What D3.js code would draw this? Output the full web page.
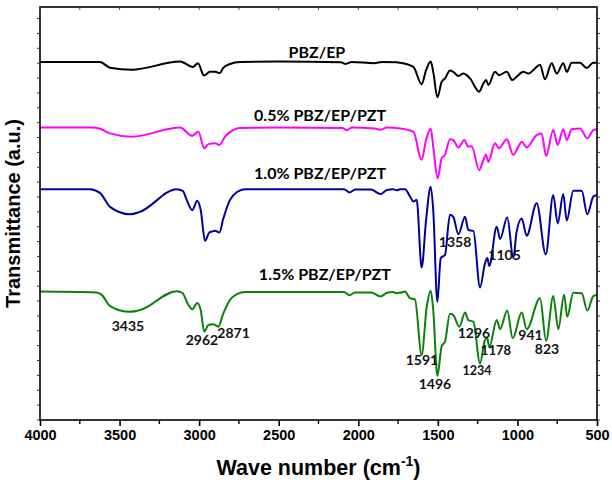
<!DOCTYPE html>
<html>
<head>
<meta charset="utf-8">
<script src="https://cdn.jsdelivr.net/npm/d3@7"></script>
<style>
  body { margin: 0; background: #fff; }
</style>
</head>
<body>
<div id="chart"></div>
<script>
// x axis ticks (wave number, reversed)
const xMajor = [4000, 3500, 3000, 2500, 2000, 1500, 1000, 500];
const xMinor = [3750, 3250, 2750, 2250, 1750, 1250, 750];

const seriesNames = ["PBZ/EP", "0.5% PBZ/EP/PZT", "1.0% PBZ/EP/PZT", "1.5% PBZ/EP/PZT"];
const seriesColors = ["#000000", "#ff00ff", "#0000a0", "#0a820a"];

// [wave number, transmittance a.u.]
const pbzEp = [
  [4000,86.7],[3623,86.7],[3560,85.3],[3424,84.8],[3120,86.8],[3040,85.5],[3007,86.4],[2970,83.4],
  [2932,84.3],[2900,84.3],[2869,84.0],[2850,85.2],[2806,86.2],[2743,86.7],[2500,86.8],[2110,86.6],
  [2080,86.2],[2040,86.7],[1900,86.4],[1850,86.7],[1760,86.6],[1738,86.5],[1654,85.5],[1602,81.3],
  [1574,84.7],[1545,86.8],[1529,84.3],[1503,78.1],[1476,81.9],[1455,82.7],[1424,84.6],[1403,84.3],
  [1371,83.3],[1340,83.9],[1319,83.5],[1298,82.7],[1240,79.5],[1214,81.5],[1197,82.3],[1183,81.1],
  [1141,84.3],[1116,83.5],[1067,84.3],[1032,82.3],[1005,83.1],[963,84.3],[932,83.9],[879,85.5],
  [858,86.0],[827,82.5],[785,86.4],[753,83.9],[712,86.4],[690,84.3],[659,86.5],[607,86.5],
  [565,85.2],[523,86.5],[500,86.5]
];
const pzt05 = [
  [4000,70.8],[3675,70.8],[3623,70.5],[3560,69.4],[3424,68.6],[3120,70.8],[3043,68.8],[3005,69.8],
  [2968,65.8],[2942,66.8],[2900,67.0],[2873,66.6],[2837,68.6],[2806,69.7],[2743,70.7],[2500,70.8],
  [2100,70.7],[2070,70.2],[2040,70.8],[1900,70.6],[1860,70.3],[1820,70.8],[1738,70.6],[1654,69.8],
  [1602,63.0],[1574,67.8],[1545,70.6],[1529,66.2],[1501,58.5],[1476,63.4],[1455,64.2],[1424,68.0],
  [1403,67.8],[1371,66.0],[1334,67.8],[1309,66.2],[1287,66.2],[1240,60.5],[1214,63.0],[1197,64.2],
  [1183,62.5],[1141,67.0],[1116,65.8],[1067,68.0],[1026,64.2],[994,66.2],[973,67.4],[942,66.0],
  [879,69.0],[848,69.4],[820,63.9],[775,70.2],[747,66.6],[712,70.4],[690,67.8],[659,70.4],
  [607,70.6],[561,68.2],[523,70.2],[500,70.4]
];
const pzt10 = [
  [4000,55.9],[3686,55.9],[3623,55.0],[3560,51.6],[3434,49.8],[3372,50.4],[3141,55.9],[3103,55.5],
  [3078,53.3],[3043,50.8],[3012,53.1],[2990,50.8],[2963,43.4],[2936,45.4],[2921,45.6],[2900,45.8],
  [2873,45.4],[2848,48.8],[2806,53.3],[2762,55.2],[2712,55.9],[2300,55.9],[2090,55.9],[2055,55.1],
  [2020,55.8],[1920,55.8],[1860,54.7],[1820,55.7],[1780,55.9],[1760,55.6],[1738,55.9],[1706,55.9],
  [1675,54.1],[1654,52.9],[1633,53.3],[1602,36.9],[1574,48.4],[1545,56.5],[1529,50.8],[1503,28.6],
  [1482,39.2],[1455,40.0],[1424,49.7],[1403,49.2],[1371,45.0],[1329,49.2],[1309,46.0],[1277,45.8],
  [1235,32.1],[1204,37.9],[1189,39.2],[1177,37.3],[1130,46.8],[1109,43.8],[1064,49.1],[1026,39.2],
  [1005,45.6],[973,48.8],[942,44.6],[879,52.5],[822,40.1],[775,54.5],[747,47.6],[712,54.7],
  [690,48.3],[649,55.5],[596,55.5],[561,49.8],[523,54.1],[500,54.5]
];
const pzt15 = [
  [4000,31.1],[3644,30.9],[3612,30.3],[3560,27.6],[3434,26.2],[3372,26.6],[3141,31.2],[3103,30.7],
  [3074,28.3],[3043,26.8],[3012,28.3],[2990,26.6],[2968,21.4],[2942,23.0],[2911,23.2],[2880,22.6],
  [2848,25.8],[2806,29.1],[2762,30.5],[2712,31.0],[2300,31.0],[2090,31.0],[2055,30.2],[2020,30.9],
  [1920,30.9],[1860,29.9],[1820,30.8],[1780,31.0],[1760,30.7],[1738,30.8],[1706,31.1],[1675,29.5],
  [1644,29.2],[1602,15.7],[1570,27.4],[1545,31.3],[1529,26.6],[1503,10.7],[1476,17.9],[1455,19.0],
  [1424,25.7],[1403,25.4],[1365,22.6],[1329,26.0],[1309,24.2],[1277,23.8],[1235,13.7],[1204,19.4],
  [1189,19.8],[1177,17.6],[1130,24.2],[1109,22.0],[1064,26.5],[1030,19.8],[973,26.0],[942,22.0],
  [858,29.5],[820,19.2],[775,30.0],[743,22.0],[707,30.3],[687,25.0],[649,30.8],[596,30.7],
  [561,26.5],[523,30.0],[500,30.3]
];
const allSeries = [pbzEp, pzt05, pzt10, pzt15];

// label anchor for each series name [wave number, a.u.]
const nameSpots = [[2260,87.6],[2240,72.4],[2240,58.4],[2210,33.9]];

// peak annotations: text, wave number, a.u., font size
const peakText = ["3435","2962","2871","1591","1496","1234","1296","1178","941","823","1358","1105"];
const peakWn   = [3447, 2982, 2784, 1600, 1518, 1254, 1273, 1135, 918, 814, 1392, 1081];
const peakT    = [21.5, 18.2, 19.9, 13.3, 7.5, 10.9, 19.9, 15.7, 19.4, 16.0, 41.9, 38.7];
const peakSize = [14, 14, 14, 14, 14, 12.5, 14, 13, 14, 14, 14, 14];

const W = 612, H = 485;
const margin = { top: 7, right: 15, bottom: 65, left: 40 };
const width = W - margin.left - margin.right,
      height = H - margin.top - margin.bottom;

const svg = d3.select("#chart").append("svg")
    .attr("width", W)
    .attr("height", H)
  .append("g")
    .attr("transform", `translate(${margin.left},${margin.top})`);

const x = d3.scaleLinear().domain([4000, 500]).range([0, width]);
const y = d3.scaleLinear().domain([0, 100]).range([height, 0]);

// spectra
const line = d3.line()
  .x(d => x(d[0]))
  .y(d => y(d[1]))
  .curve(d3.curveMonotoneX);

svg.selectAll("path.spec")
  .data(allSeries)
  .join("path")
    .attr("class", "spec")
    .attr("d", d => line(d))
    .attr("fill", "none")
    .attr("stroke", (d, i) => seriesColors[i])
    .attr("stroke-width", 2)
    .attr("stroke-linejoin", "round");

// series names
svg.selectAll("text.name")
  .data(seriesNames)
  .join("text")
    .attr("class", "name")
    .attr("x", (d, i) => x(nameSpots[i][0]))
    .attr("y", (d, i) => y(nameSpots[i][1]))
    .attr("text-anchor", "middle")
    .style("font-family", "Lato, 'Open Sans', sans-serif")
    .style("font-weight", "bold")
    .style("font-size", "16px")
    .text(d => d);

// peak labels
svg.selectAll("text.peak")
  .data(peakText)
  .join("text")
    .attr("class", "peak")
    .attr("x", (d, i) => x(peakWn[i]))
    .attr("y", (d, i) => y(peakT[i]))
    .attr("text-anchor", "middle")
    .style("font-family", "Lato, 'Open Sans', sans-serif")
    .style("font-weight", "bold")
    .style("font-size", (d, i) => peakSize[i] + "px")
    .style("fill", "#111")
    .text(d => d);

// frame
svg.append("rect")
  .attr("width", width)
  .attr("height", height)
  .attr("fill", "none")
  .attr("stroke", "#000")
  .attr("stroke-width", 1.6);

// bottom axis
const xAxis = svg.append("g")
  .attr("transform", `translate(0,${height})`)
  .call(d3.axisBottom(x).tickValues(xMajor).tickSize(6).tickFormat(d3.format("d")));
xAxis.select(".domain").remove();
xAxis.selectAll(".tick line").attr("stroke-width", 1.6);
xAxis.selectAll("text")
  .attr("dy", "0.7em")
  .attr("y", 10)
  .style("font-family", "'Liberation Sans', Arial, sans-serif")
  .style("font-weight", "bold")
  .style("font-size", "14.5px");
svg.append("g")
  .attr("transform", `translate(0,${height})`)
  .selectAll("line")
  .data(xMinor)
  .join("line")
    .attr("x1", d => x(d)).attr("x2", d => x(d))
    .attr("y1", 0).attr("y2", 4)
    .attr("stroke", "#000").attr("stroke-width", 1.4);

// top ticks (inside)
svg.append("g")
  .selectAll("line")
  .data(xMajor.concat(xMinor))
  .join("line")
    .attr("x1", d => x(d)).attr("x2", d => x(d))
    .attr("y1", 0).attr("y2", 3)
    .attr("stroke", "#555").attr("stroke-width", 1);

// left and right ticks (no labels)
const yTicks = d3.range(0, 100.1, 3.6);
svg.append("g")
  .selectAll("line")
  .data(yTicks)
  .join("line")
    .attr("x1", -3).attr("x2", 0)
    .attr("y1", d => y(d)).attr("y2", d => y(d))
    .attr("stroke", "#333").attr("stroke-width", 1);
svg.append("g")
  .selectAll("line")
  .data(yTicks)
  .join("line")
    .attr("x1", width).attr("x2", width + 3)
    .attr("y1", d => y(d)).attr("y2", d => y(d))
    .attr("stroke", "#333").attr("stroke-width", 1);

// axis titles
const xt = svg.append("text")
  .attr("x", width / 2)
  .attr("y", height + 55)
  .attr("text-anchor", "middle")
  .style("font-family", "'Liberation Sans', Arial, sans-serif")
  .style("font-weight", "bold")
  .style("font-size", "21.5px");
xt.append("tspan").text("Wave number (cm");
xt.append("tspan").attr("dy", -9).style("font-size", "14px").text("-1");
xt.append("tspan").attr("dy", 9).text(")");

svg.append("text")
  .attr("transform", `translate(${-20},${height / 2}) rotate(-90)`)
  .attr("text-anchor", "middle")
  .style("font-family", "'Liberation Sans', Arial, sans-serif")
  .style("font-weight", "bold")
  .style("font-size", "20px")
  .text("Transmittance (a.u.)");
</script>
</body>
</html>
